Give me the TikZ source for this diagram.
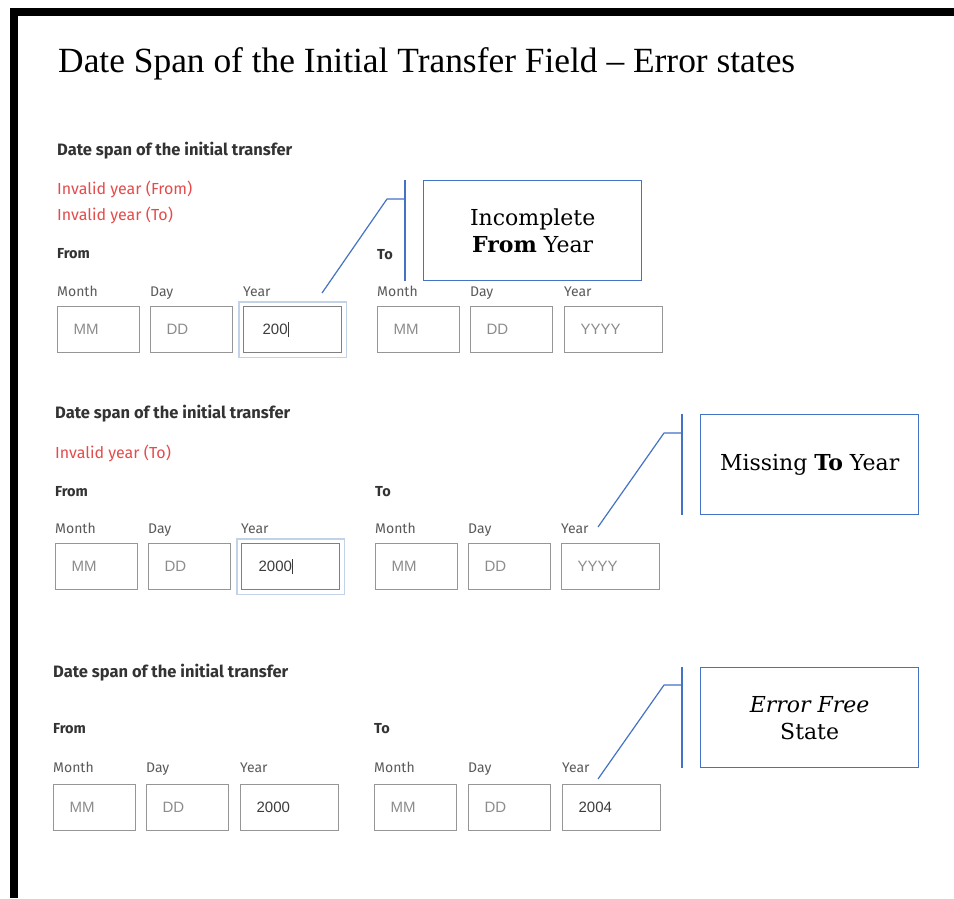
\documentclass[tikz,border=0pt]{standalone}
\usepackage{fontspec}
\setmainfont{Liberation Serif}
\newfontfamily\calloutfont{DejaVu Serif}
\newfontfamily\uifont{Fira Sans}
\newfontfamily\inputfont{Liberation Sans}
\usetikzlibrary{calc}

\definecolor{headgray}{RGB}{51,51,51}
\definecolor{errred}{RGB}{228,76,76}
\definecolor{lblgray}{RGB}{90,90,90}
\definecolor{boxgray}{RGB}{150,150,150}
\definecolor{phgray}{RGB}{140,140,140}
\definecolor{valgray}{RGB}{60,60,60}
\definecolor{focusring}{RGB}{196,210,232}
\definecolor{callblue}{RGB}{68,114,196}

\tikzset{
  pagetitle/.style={anchor=base west, inner sep=0, font=\fontsize{35.4}{40}\selectfont, text=black},
  head/.style={anchor=base west, inner sep=0, font=\uifont\bfseries\fontsize{16.5}{19}\selectfont, text=headgray},
  err/.style={anchor=base west, inner sep=0, font=\uifont\fontsize{16}{19}\selectfont, text=errred},
  sub/.style={anchor=base west, inner sep=0, font=\uifont\bfseries\fontsize{14.5}{17}\selectfont, text=headgray},
  lbl/.style={anchor=base west, inner sep=0, font=\uifont\fontsize{14}{17}\selectfont, text=lblgray},
  field/.style={draw=boxgray, line width=1.3, anchor=north west, minimum height=46,
    inner xsep=16, inner ysep=0, align=left, font=\inputfont\fontsize{15}{18}\selectfont, text=phgray},
  shortfield/.style={field, text width=50},
  longfield/.style={field, text width=66},
  filled/.style={text=valgray},
  focused/.style={draw=boxgray!85!black},
  ring/.style={draw=focusring, line width=1.5},
  callout/.style={draw=callblue, line width=1.3, anchor=north west, minimum width=218,
    minimum height=100, align=center, font=\calloutfont\fontsize{22}{27}\selectfont, text=black},
  bracket/.style={draw=callblue, line width=2.4},
  leader/.style={draw=callblue, line width=1.2, line join=round},
}

\newcommand{\caret}{\rule[-2.5pt]{0.9pt}{15pt}}

\begin{document}
\begin{tikzpicture}[x=1pt, y=-1pt]
  \useasboundingbox (0,0) rectangle (954,898);
  \fill[white] (0,0) rectangle (954,898);

  % frame of the sheet
  \fill[black] (10,8) rectangle (954,16);
  \fill[black] (10,8) rectangle (18,898);

  \node[pagetitle] (title) at (58,72) {Date Span of the Initial Transfer Field – Error states};

  % ---------- first form: both years invalid ----------
  \node[head] (h1) at (57,155) {Date span of the initial transfer};
  \node[err] (e1a) at (57,194) {Invalid year (From)};
  \node[err] (e1b) at (57,220) {Invalid year (To)};
  \node[sub] (f1) at (57,258) {From};
  \node[sub] (t1) at (377,259) {To};
  \node[lbl] (lm1) at (57,296) {Month};
  \node[lbl] (ld1) at (150,296) {Day};
  \node[lbl] (ly1) at (243,296) {Year};
  \node[lbl] (tm1) at (377,296) {Month};
  \node[lbl] (td1) at (470,296) {Day};
  \node[lbl] (ty1) at (564,296) {Year};
  \node[shortfield] (fm1) at (57,306) {MM};
  \node[shortfield] (fd1) at (150,306) {DD};
  \node[longfield, filled, focused] (fy1) at (243,306) {\hspace{3pt}200\caret};
  \draw[ring] ($(fy1.north west)+(-4,-4)$) rectangle ($(fy1.south east)+(4,4)$);
  \node[shortfield] (gm1) at (377,306) {MM};
  \node[shortfield] (gd1) at (470,306) {DD};
  \node[longfield] (gy1) at (564,306) {YYYY};

  \node[callout] (c1) at (423,180) {Incomplete\\\textbf{From} Year};
  \coordinate (b1t) at ($(c1.north west)+(-18,0)$);
  \coordinate (b1b) at ($(c1.south west)+(-18,0)$);
  \coordinate (k1) at ($(b1t)+(0,19)$);
  \coordinate (k1e) at ($(k1)+(-18,0)$);
  \coordinate (p1) at ($(fy1.north west)+(79,-13)$);
  \draw[bracket] (b1t) -- (b1b);
  \draw[leader] (k1) -- (k1e) -- (p1);

  % ---------- second form: To year missing ----------
  \node[head] (h2) at (55,418) {Date span of the initial transfer};
  \node[err] (e2) at (55,458) {Invalid year (To)};
  \node[sub] (f2) at (55,496) {From};
  \node[sub] (t2) at (375,496) {To};
  \node[lbl] (lm2) at (55,533) {Month};
  \node[lbl] (ld2) at (148,533) {Day};
  \node[lbl] (ly2) at (241,533) {Year};
  \node[lbl] (tm2) at (375,533) {Month};
  \node[lbl] (td2) at (468,533) {Day};
  \node[lbl] (ty2) at (561,533) {Year};
  \node[shortfield] (fm2) at (55,543) {MM};
  \node[shortfield] (fd2) at (148,543) {DD};
  \node[longfield, filled, focused] (fy2) at (241,543) {\hspace{1pt}2000\caret};
  \draw[ring] ($(fy2.north west)+(-4,-4)$) rectangle ($(fy2.south east)+(4,4)$);
  \node[shortfield] (gm2) at (375,543) {MM};
  \node[shortfield] (gd2) at (468,543) {DD};
  \node[longfield] (gy2) at (561,543) {YYYY};

  \node[callout] (c2) at (700,414) {Missing \textbf{To} Year};
  \coordinate (b2t) at ($(c2.north west)+(-18,0)$);
  \coordinate (b2b) at ($(c2.south west)+(-18,0)$);
  \coordinate (k2) at ($(b2t)+(0,19)$);
  \coordinate (k2e) at ($(k2)+(-18,0)$);
  \coordinate (p2) at ($(gy2.north west)+(37,-16)$);
  \draw[bracket] (b2t) -- (b2b);
  \draw[leader] (k2) -- (k2e) -- (p2);

  % ---------- third form: no errors ----------
  \node[head] (h3) at (53,677) {Date span of the initial transfer};
  \node[sub] (f3) at (53,733) {From};
  \node[sub] (t3) at (374,733) {To};
  \node[lbl] (lm3) at (53,772) {Month};
  \node[lbl] (ld3) at (146,772) {Day};
  \node[lbl] (ly3) at (240,772) {Year};
  \node[lbl] (tm3) at (374,772) {Month};
  \node[lbl] (td3) at (468,772) {Day};
  \node[lbl] (ty3) at (562,772) {Year};
  \node[shortfield] (fm3) at (53,784) {MM};
  \node[shortfield] (fd3) at (146,784) {DD};
  \node[longfield, filled] (fy3) at (240,784) {2000};
  \node[shortfield] (gm3) at (374,784) {MM};
  \node[shortfield] (gd3) at (468,784) {DD};
  \node[longfield, filled] (gy3) at (562,784) {2004};

  \node[callout] (c3) at (700,667) {\textit{Error Free}\\State};
  \coordinate (b3t) at ($(c3.north west)+(-18,0)$);
  \coordinate (b3b) at ($(c3.south west)+(-18,0)$);
  \coordinate (k3) at ($(b3t)+(0,18)$);
  \coordinate (k3e) at ($(k3)+(-18,0)$);
  \coordinate (p3) at ($(gy3.north west)+(36,-5)$);
  \draw[bracket] (b3t) -- (b3b);
  \draw[leader] (k3) -- (k3e) -- (p3);
\end{tikzpicture}
\end{document}
